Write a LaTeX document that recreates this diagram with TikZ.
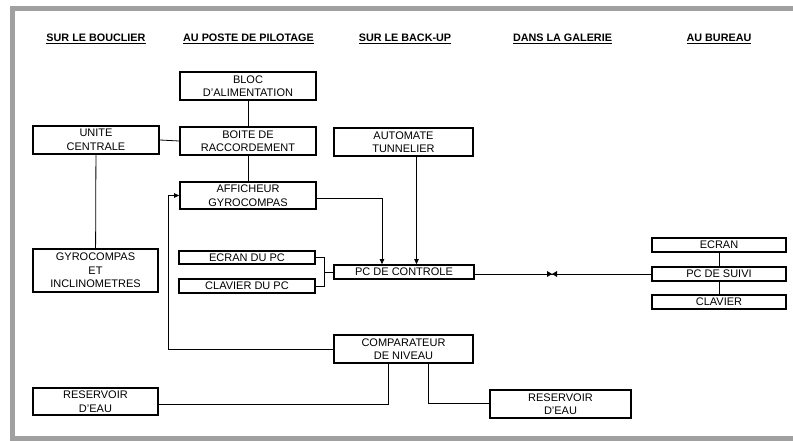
\documentclass[tikz,border=0pt]{standalone}
\usepackage{fontspec}
\setmainfont{Liberation Sans}
\usetikzlibrary{arrows.meta}
\definecolor{framegray}{RGB}{160,160,160}
\tikzset{
  box/.style={draw, line width=1.7pt, inner sep=0pt, align=center,
    font=\fontsize{11}{13.5}\selectfont},
  hdr/.style={anchor=base, inner sep=0pt, font=\fontsize{10.8}{13}\selectfont\bfseries},
  wire/.style={line width=0.8pt},
  arr/.style={wire, -{Triangle[length=5pt,width=4.5pt]}},
}
\begin{document}
\begin{tikzpicture}[x=1pt,y=-1pt]
\useasboundingbox (0,0) rectangle (793,441);
% frame
\fill[framegray] (10,6) rectangle (793,11);
\fill[framegray] (10,6) rectangle (15,441);
\fill[framegray] (10,436) rectangle (793,441);
% headers
\node[hdr] (h1) at (96,41.5) {\underline{SUR LE BOUCLIER}};
\node[hdr] (h2) at (248.5,41.5) {\underline{AU POSTE DE PILOTAGE}};
\node[hdr] (h3) at (405,41.5) {\underline{SUR LE BACK-UP}};
\node[hdr] (h4) at (562.5,41.5) {\underline{DANS LA GALERIE}};
\node[hdr] (h5) at (719,41.5) {\underline{AU BUREAU}};
% boxes
\node[box, minimum width=136pt, minimum height=28pt] (bloc) at (248,86) {BLOC\\D'ALIMENTATION};
\node[box, minimum width=136pt, minimum height=28pt] (boite) at (248,141) {BOITE DE\\RACCORDEMENT};
\node[box, minimum width=126pt, minimum height=28pt] (unite) at (96,140) {UNITE\\CENTRALE};
\node[box, minimum width=136pt, minimum height=27pt] (affich) at (248,195.5) {AFFICHEUR\\GYROCOMPAS};
\node[box, minimum width=139pt, minimum height=28pt] (automate) at (403.5,142) {AUTOMATE\\TUNNELIER};
\node[box, minimum width=125pt, minimum height=43pt] (gyro) at (95.5,270.5) {GYROCOMPAS\\ET\\INCLINOMETRES};
\node[box, minimum width=136pt, minimum height=13pt] (ecranpc) at (247,257.5) {ECRAN DU PC};
\node[box, minimum width=136pt, minimum height=14pt] (clavierpc) at (247,286) {CLAVIER DU PC};
\node[box, minimum width=140pt, minimum height=14pt] (pcctrl) at (404,272) {PC DE CONTROLE};
\node[box, minimum width=139pt, minimum height=28pt] (comp) at (403.5,349) {COMPARATEUR\\DE NIVEAU};
\node[box, minimum width=125pt, minimum height=27pt] (res1) at (95.5,401.5) {RESERVOIR\\D'EAU};
\node[box, minimum width=141pt, minimum height=28pt] (res2) at (560.5,404) {RESERVOIR\\D'EAU};
\node[box, minimum width=134pt, minimum height=14pt] (ecran) at (719,245) {ECRAN};
\node[box, minimum width=134pt, minimum height=14pt] (pcsuivi) at (719,274) {PC DE SUIVI};
\node[box, minimum width=134pt, minimum height=14pt] (clavier) at (719,302) {CLAVIER};
% connectors
\draw[wire] (bloc) -- (boite);
\draw[wire] (boite) -- (affich);
\draw[wire] (unite.east) -- (boite.west);
\draw[wire] (unite) -- (gyro);
\draw[arr] ([yshift=-3pt]affich.east) -| ([xshift=-22pt]pcctrl.north);
\draw[arr] ([xshift=13pt]automate.south) -- ([xshift=13pt]automate.south |- pcctrl.north);
\coordinate (j) at (324,272);
\draw[wire] (ecranpc.east) -| (j) -- (pcctrl.west);
\draw[wire] (clavierpc.east) -| (j);
\coordinate (lc) at (168,349);
\draw[arr] (comp.west) -- (lc) |- (affich.west);
\draw[wire] ([xshift=-15.5pt]comp.south) |- ([yshift=-2.5pt]res1.east);
\draw[wire] ([xshift=24.5pt]comp.south) |- ([yshift=1pt]res2.west);
\draw[wire] (pcctrl.east |- pcsuivi.west) -- (pcsuivi.west);
\coordinate (bt) at (552,274);
\fill ([xshift=-5pt,yshift=-3pt]bt) -- (bt) -- ([xshift=-5pt,yshift=3pt]bt) -- cycle;
\fill ([xshift=5pt,yshift=-3pt]bt) -- (bt) -- ([xshift=5pt,yshift=3pt]bt) -- cycle;
\draw[wire] (ecran) -- (pcsuivi);
\draw[wire] (pcsuivi) -- (clavier);
\end{tikzpicture}
\end{document}
